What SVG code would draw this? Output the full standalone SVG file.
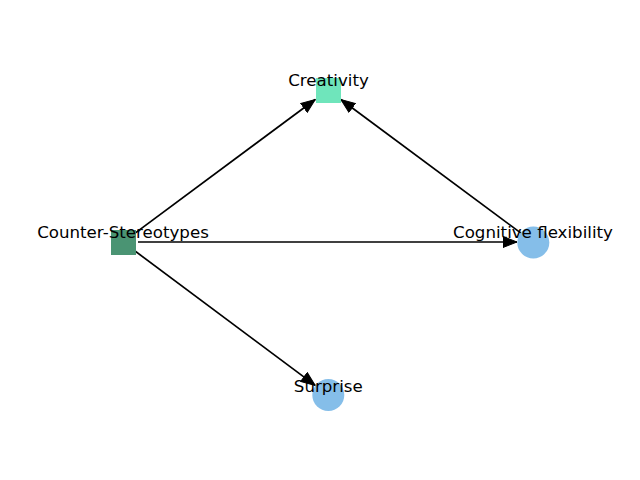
<svg xmlns="http://www.w3.org/2000/svg" width="640" height="480" viewBox="0 0 640 480">
  <style>
    .edge { stroke: #000; stroke-width: 1.7; fill: none; marker-end: url(#arrow); }
    .label { font-family: "DejaVu Sans", sans-serif; font-size: 16.67px; fill: #000; text-anchor: middle; }
    .blue { fill: #85bee9; }
  </style>
  <defs>
    <marker id="arrow" markerUnits="userSpaceOnUse" markerWidth="16" markerHeight="14" refX="14.5" refY="6.5" orient="auto">
      <path d="M0.5,1 L14.5,6.5 L0.5,12 z" fill="#000" stroke="#000" stroke-width="1" stroke-linejoin="miter"/>
    </marker>
  </defs>
  <rect width="640" height="480" fill="#fff"/>
  <g id="connectors">
    <line class="edge" x1="135.1" y1="233.1" x2="315.2" y2="99.5"/>
    <line class="edge" x1="138" y1="242" x2="517" y2="242"/>
    <line class="edge" x1="135.0" y1="251.0" x2="315.2" y2="385.4"/>
    <line class="edge" x1="521.0" y1="233.1" x2="340.9" y2="99.5"/>
  </g>
  <g id="creativity">
    <rect x="316" y="78" width="25" height="25" fill="#6fe5bb"/>
    <text class="label" x="328.5" y="86">Creativity</text>
  </g>
  <g id="counter-stereotypes">
    <rect x="111" y="230" width="25" height="25" fill="#4a9473"/>
    <text class="label" x="123" y="238">Counter-Stereotypes</text>
  </g>
  <g id="cognitive-flexibility">
    <circle class="blue" cx="533.3" cy="242.5" r="16"/>
    <text class="label" x="533" y="238.3">Cognitive flexibility</text>
  </g>
  <g id="surprise">
    <circle class="blue" cx="328.3" cy="395" r="16"/>
    <text class="label" x="328.3" y="391.7">Surprise</text>
  </g>
</svg>
